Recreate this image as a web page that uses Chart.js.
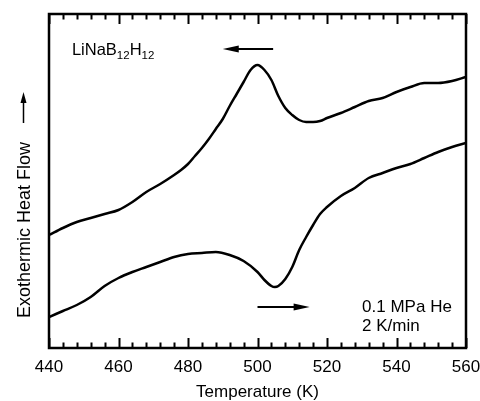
<!DOCTYPE html>
<html>
<head>
<meta charset="utf-8">
<script src="https://cdn.jsdelivr.net/npm/chart.js@4"></script>
<style>
  html, body { margin: 0; padding: 0; background: #fff; }
  #wrap { width: 480px; height: 401px; }
</style>
</head>
<body>
<div id="wrap"><canvas id="dsc"></canvas></div>
<script>
// cooling run (upper trace), heat flow in arbitrary units
const tempCooling = [440, 444, 448, 452, 456, 460, 464, 468, 472, 476, 478, 480, 482, 484, 486, 488, 490, 492, 494, 496, 498, 500, 502, 504, 506, 508, 510, 512, 514, 516, 518, 520, 524, 528, 532, 536, 540, 544, 548, 552, 556, 560];
const flowCooling = [113, 120, 126, 130, 134, 138, 146, 156, 164, 173, 178, 184, 192, 200, 209, 219, 229, 242, 254, 266, 278, 283, 278, 268, 252, 240, 233, 228, 226, 226, 227, 230, 235, 241, 247, 250, 256, 261, 265, 265, 267, 271];

// heating run (lower trace)
const tempHeating = [440, 444, 448, 452, 456, 460, 464, 468, 472, 476, 480, 484, 488, 492, 496, 500, 502, 504, 505, 506, 508, 510, 512, 514, 516, 518, 520, 524, 528, 532, 536, 540, 544, 548, 552, 556, 560];
const flowHeating = [31, 37, 43, 51, 62, 70, 76, 81, 86, 91, 94, 95, 96, 93, 87, 76, 68, 62, 61, 62, 69, 81, 98, 111, 123, 134, 141, 152, 160, 170, 175, 180, 184, 190, 196, 201, 205];

// direction arrows [tail, head]
const coolingArrowT = [504.5, 490];
const coolingArrowY = [299, 299];
const heatingArrowT = [500, 515];
const heatingArrowY = [41, 41];

const xTicks = [440, 460, 480, 500, 520, 540, 560];
const FONT = '"Liberation Sans", Arial, sans-serif';

function toPoints(xs, ys) {
    return xs.map((x, i) => ({ x: x, y: ys[i] }));
}

const decor = {
    id: 'decor',
    afterDraw(chart) {
        const ctx = chart.ctx;
        const a = chart.chartArea;
        const xs = chart.scales.x, ys = chart.scales.y;
        ctx.save();
        ctx.strokeStyle = '#000';
        ctx.fillStyle = '#000';

        // frame
        ctx.lineWidth = 2.5;
        ctx.strokeRect(a.left, a.top, a.right - a.left, a.bottom - a.top);

        // inward ticks top and bottom
        ctx.lineWidth = 2;
        for (let t = 440; t <= 560; t += 4) {
            const px = Math.round(xs.getPixelForValue(t)) + 0.5;
            const len = (t - 440) % 20 === 0 ? 10 : 5.5;
            ctx.beginPath();
            ctx.moveTo(px, a.bottom); ctx.lineTo(px, a.bottom - len);
            ctx.moveTo(px, a.top); ctx.lineTo(px, a.top + len);
            ctx.stroke();
        }

        // arrows
        function arrow(x1, y1, x2, y2) {
            const dir = Math.sign(x2 - x1);
            ctx.lineWidth = 2;
            ctx.beginPath();
            ctx.moveTo(x1, y1); ctx.lineTo(x2 - dir * 10, y2);
            ctx.stroke();
            ctx.beginPath();
            ctx.moveTo(x2, y2);
            ctx.lineTo(x2 - dir * 16, y2 - 3.5);
            ctx.lineTo(x2 - dir * 16, y2 + 3.5);
            ctx.closePath();
            ctx.fill();
        }
        arrow(xs.getPixelForValue(coolingArrowT[0]), ys.getPixelForValue(coolingArrowY[0]),
              xs.getPixelForValue(coolingArrowT[1]), ys.getPixelForValue(coolingArrowY[1]));
        arrow(xs.getPixelForValue(heatingArrowT[0]), ys.getPixelForValue(heatingArrowY[0]),
              xs.getPixelForValue(heatingArrowT[1]), ys.getPixelForValue(heatingArrowY[1]));

        // sample label with subscripts
        ctx.textBaseline = 'alphabetic';
        ctx.textAlign = 'left';
        let x = xs.getPixelForValue(446.6);
        const base = ys.getPixelForValue(293);
        const parts = [['LiNaB', 0], ['12', 1], ['H', 0], ['12', 1]];
        parts.forEach(([s, sub]) => {
            ctx.font = (sub ? '11.5px ' : '16.5px ') + FONT;
            ctx.fillText(s, x, base + (sub ? 4 : 0));
            x += ctx.measureText(s).width;
        });

        // conditions
        ctx.font = '17px ' + FONT;
        const cx = xs.getPixelForValue(530.1);
        ctx.fillText('0.1 MPa He', cx, ys.getPixelForValue(36));
        ctx.fillText('2 K/min', cx, ys.getPixelForValue(17));

        // y axis label with arrow
        ctx.save();
        ctx.translate(30, 318);
        ctx.rotate(-Math.PI / 2);
        ctx.font = '18px ' + FONT;
        ctx.fillText('Exothermic Heat Flow', 0, 0);
        ctx.restore();
        ctx.lineWidth = 1.5;
        ctx.beginPath();
        ctx.moveTo(23.5, 123); ctx.lineTo(23.5, 100);
        ctx.stroke();
        ctx.beginPath();
        ctx.moveTo(23.5, 92);
        ctx.lineTo(20.5, 103);
        ctx.lineTo(26.5, 103);
        ctx.closePath();
        ctx.fill();

        ctx.restore();
    }
};

const lineStyle = {
    borderColor: '#000',
    borderWidth: 2.5,
    pointRadius: 0,
    fill: false,
    cubicInterpolationMode: 'monotone'
};

new Chart(document.getElementById('dsc'), {
    type: 'line',
    data: {
        datasets: [
            Object.assign({ label: 'cooling', data: toPoints(tempCooling, flowCooling) }, lineStyle),
            Object.assign({ label: 'heating', data: toPoints(tempHeating, flowHeating) }, lineStyle)
        ]
    },
    options: {
        responsive: true,
        maintainAspectRatio: false,
        animation: false,
        layout: { padding: { top: 14, right: 14, left: 0, bottom: 0 } },
        plugins: { legend: { display: false }, tooltip: { enabled: false } },
        scales: {
            x: {
                type: 'linear',
                min: 440,
                max: 560,
                afterBuildTicks: s => { s.ticks = xTicks.map(v => ({ value: v })); },
                afterFit: s => { s.height = 53; s.paddingLeft = 0; s.paddingRight = 0; },
                grid: { display: false, drawTicks: false },
                border: { display: false },
                ticks: { color: '#000', padding: 9, font: { family: FONT, size: 17 } },
                title: {
                    display: true,
                    text: 'Temperature (K)',
                    color: '#000',
                    padding: { top: 0, bottom: -2 },
                    font: { family: FONT, size: 17 }
                }
            },
            y: {
                min: 0,
                max: 334,
                afterFit: s => { s.width = 49; },
                grid: { display: false, drawTicks: false },
                border: { display: false },
                ticks: { display: false }
            }
        }
    },
    plugins: [decor]
});
</script>
</body>
</html>
